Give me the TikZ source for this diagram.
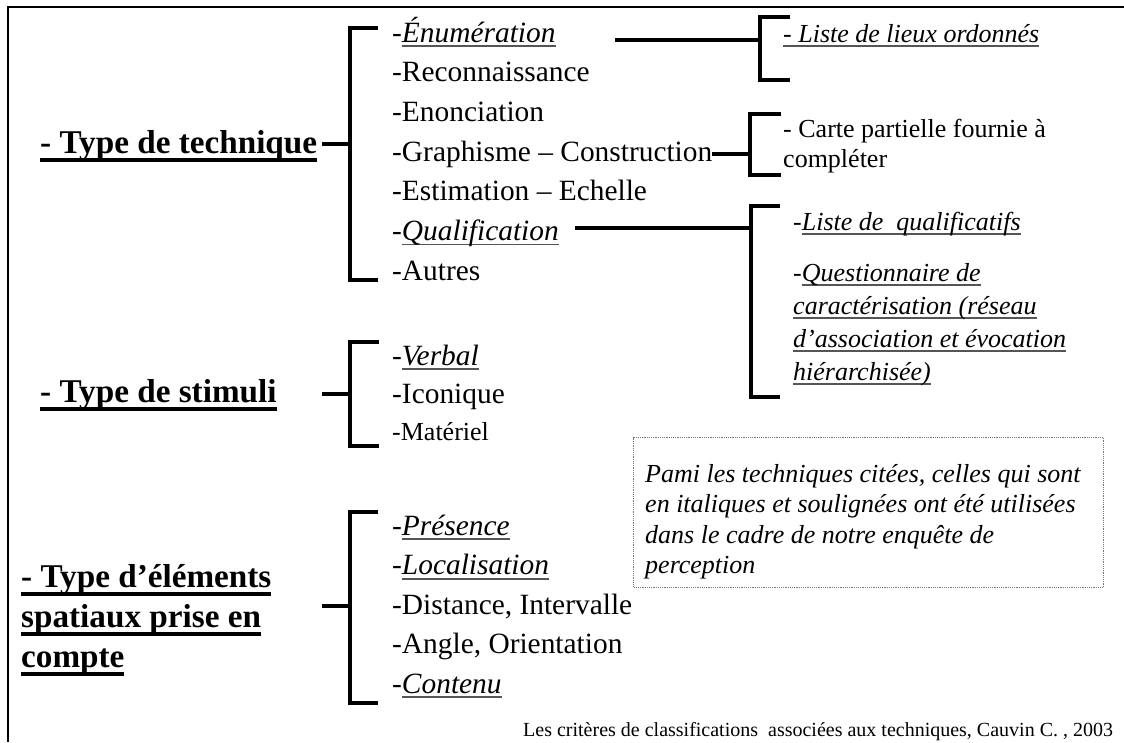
\documentclass[tikz,border=0pt]{standalone}
\usepackage{fontspec}
\setmainfont{Liberation Serif}
\usepackage{xcolor}
\usetikzlibrary{calc}
\definecolor{ulgray}{RGB}{85,85,85}
\definecolor{notegray}{RGB}{120,120,120}
% underlines: thick for the criteria, thin grey for the techniques used
\newcommand{\ulhead}[1]{{\setbox0\hbox{#1}\rlap{\rule[-9pt]{\wd0}{3.6pt}}\box0}}
\newcommand{\ulitem}[1]{{\setbox0\hbox{#1}\rlap{\textcolor{ulgray}{\rule[-5pt]{\wd0}{1.6pt}}}\box0}}
\tikzset{
  header/.style={anchor=base west, inner sep=0pt,
    font=\fontsize{33.2}{40}\selectfont\bfseries},
  item/.style={anchor=base west, inner sep=0pt,
    font=\fontsize{29.4}{40}\selectfont},
  smallitem/.style={anchor=base west, inner sep=0pt,
    font=\fontsize{26}{38}\selectfont},
  subitem/.style={anchor=base west, inner sep=0pt,
    font=\fontsize{26}{30}\selectfont},
  notebox/.style={draw=notegray, densely dotted, line width=1.2pt,
    anchor=north west, inner sep=0pt},
  caption/.style={anchor=base west, inner sep=0pt,
    font=\fontsize{20}{24}\selectfont},
  brk/.style={line width=3.3pt, color=black}
}

\begin{document}
\begin{tikzpicture}[x=1pt, y=-1pt]
  \useasboundingbox (0,0) rectangle (1124,742);
  % Frame
  \draw[line width=2pt] (8,742) -- (8,7) -- (1124,7);

  % Type de technique
  \node[header] (tech) at (40,153) {\ulhead{- Type de technique}};
  \node[item] (enum) at (392,42) {-\ulitem{\textit{Énumération}}};
  \node[item] (reco) at (392,81.7) {-Reconnaissance};
  \node[item] (enon) at (392,121.3) {-Enonciation};
  \node[item] (graph) at (392,161) {-Graphisme – Construction};
  \node[item] (esti) at (392,200.7) {-Estimation – Echelle};
  \node[item] (qual) at (392,240.3) {-\ulitem{\textit{Qualification}}};
  \node[item] (autr) at (392,280) {-Autres};
  \coordinate (techS) at (322,144);
  \coordinate (techJ) at (350,144);
  \draw[brk] (techS) -- (techJ);
  \draw[brk] (378,28) -| (techJ) |- (378,280);

  % Enumeration branch
  \coordinate (enumS) at (615,40);
  \coordinate (enumJ) at (760,40);
  \draw[brk] (enumS) -- (enumJ);
  \draw[brk] (790,17) -| (enumJ) |- (790,80);
  \node[subitem] (lieux) at (783,42) {\itshape\ulitem{- Liste de lieux ordonnés}};

  % Graphisme branch
  \coordinate (graphJ) at (750,154);
  \draw[brk] (graph.east |- graphJ) -- (graphJ);
  \draw[brk] (781,114) -| (graphJ) |- (781,175);
  \node[subitem] (carte1) at (783,137) {- Carte partielle fournie à};
  \node[subitem] (carte2) at (783,167) {compléter};

  % Qualification branch
  \coordinate (qualS) at (575,228);
  \coordinate (qualJ) at (751,228);
  \draw[brk] (qualS) -- (qualJ);
  \draw[brk] (780,206) -| (qualJ) |- (780,397);
  \node[subitem] (qlist) at (793,230) {-\ulitem{\textit{Liste de~ qualificatifs}}};
  \node[subitem] (quest1) at (793,281) {-\ulitem{\textit{Questionnaire de}}};
  \node[subitem] (quest2) at (793,314) {\ulitem{\textit{caractérisation (réseau}}};
  \node[subitem] (quest3) at (793,347) {\ulitem{\textit{d’association et évocation}}};
  \node[subitem] (quest4) at (793,380) {\ulitem{\textit{hiérarchisée)}}};

  % Type de stimuli
  \node[header] (stim) at (40,402) {\ulhead{- Type de stimuli}};
  \node[item] (verb) at (392,365) {-\ulitem{\textit{Verbal}}};
  \node[item] (icon) at (392,403) {-Iconique};
  \node[smallitem] (mater) at (392,440) {-Matériel};
  \coordinate (stimS) at (322,394);
  \coordinate (stimJ) at (350,394);
  \draw[brk] (stimS) -- (stimJ);
  \draw[brk] (379,342) -| (stimJ) |- (379,446);

  % Type d'elements spatiaux
  \node[header] (elem1) at (21,587) {\ulhead{- Type d’éléments}};
  \node[header] (elem2) at (21,627) {\ulhead{spatiaux prise en}};
  \node[header] (elem3) at (21,667) {\ulhead{compte}};
  \node[item] (pres) at (392,535) {-\ulitem{\textit{Présence}}};
  \node[item] (loca) at (392,574.5) {-\ulitem{\textit{Localisation}}};
  \node[item] (dist) at (392,614) {-Distance, Intervalle};
  \node[item] (angl) at (392,653.5) {-Angle, Orientation};
  \node[item] (cont) at (392,693) {-\ulitem{\textit{Contenu}}};
  \coordinate (elemS) at (322,606);
  \coordinate (elemJ) at (350,606);
  \draw[brk] (elemS) -- (elemJ);
  \draw[brk] (378,512) -| (elemJ) |- (378,703);

  % Note box
  \node[notebox, minimum width=470pt, minimum height=150pt] (note) at (633,437) {};
  \node[subitem, font=\fontsize{26}{30}\selectfont\itshape] (note1) at (645,482) {Pami les techniques citées, celles qui sont};
  \node[subitem, font=\fontsize{26}{30}\selectfont\itshape] (note2) at (645,512.5) {en italiques et soulignées ont été utilisées};
  \node[subitem, font=\fontsize{26}{30}\selectfont\itshape] (note3) at (645,543) {dans le cadre de notre enquête de};
  \node[subitem, font=\fontsize{26}{30}\selectfont\itshape] (note4) at (645,573) {perception};

  % Source
  \node[caption] (cap) at (523,736) {Les critères de classifications~ associées aux techniques, Cauvin C. , 2003};
\end{tikzpicture}
\end{document}
